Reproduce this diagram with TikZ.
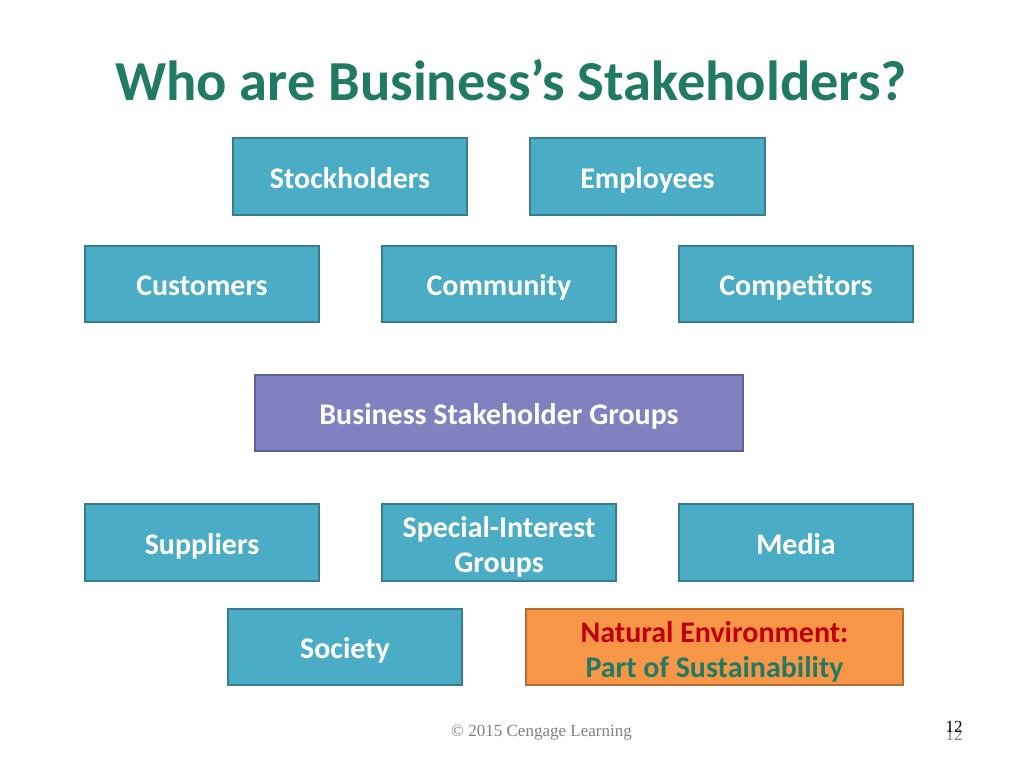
\documentclass[tikz,border=0pt]{standalone}
\usepackage{fontspec}
\setmainfont{Carlito}
\newfontfamily\footfont{Liberation Serif}
\definecolor{boxaqua}{HTML}{4BACC6}
\definecolor{boxaquaedge}{HTML}{357D91}
\definecolor{boxviolet}{HTML}{8181BF}
\definecolor{boxvioletedge}{HTML}{5F5F99}
\definecolor{boxorange}{HTML}{F79646}
\definecolor{boxorangeedge}{HTML}{B66D31}
\definecolor{titlegreen}{HTML}{217A63}
\definecolor{envred}{HTML}{C00000}

\begin{document}
\begin{tikzpicture}[x=0.025cm, y=-0.025cm,
  every node/.style = {align=center, font=\fontsize{21.3}{24.8}\selectfont\bfseries},
  stakebox/.style = {shape=rectangle, draw=boxaquaedge, fill=boxaqua,
    line width=1.4pt, text=white, minimum width=5.85cm, minimum height=1.92cm,
    text height=21pt, text depth=4.6pt, inner sep=0pt},
  twolines/.style = {text height=47.5pt, text depth=5pt},
  groupbox/.style = {stakebox, draw=boxvioletedge, fill=boxviolet,
    minimum width=12.2cm},
  earthbox/.style = {stakebox, draw=boxorangeedge, fill=boxorange,
    minimum width=9.42cm, text height=48pt, text depth=5pt},
  footnote/.style = {font=\fontsize{12.1}{14}\selectfont\footfont}]
  \useasboundingbox (0,0) rectangle (1024,768);
  \node[text=titlegreen, font=\fontsize{40.2}{46}\selectfont\bfseries] (title) at (511,80)
    {Who are Business’s Stakeholders?};
  \node[stakebox] (stock) at (350,176.5) {Stockholders};
  \node[stakebox] (empl) at (647.5,176.5) {Employees};
  \node[stakebox] (cust) at (202,284) {Customers};
  \node[stakebox] (comm) at (499,284) {Community};
  \node[stakebox] (comp) at (796,284) {Competitors};
  \node[groupbox] (groups) at (499,413) {Business Stakeholder Groups};
  \node[stakebox] (supp) at (202,542.5) {Suppliers};
  \node[stakebox, twolines] (special) at (499,542.5) {Special-Interest\\Groups};
  \node[stakebox] (media) at (796,542.5) {Media};
  \node[stakebox] (society) at (345,647) {Society};
  \node[earthbox] (nature) at (714.5,647)
    {\textcolor{envred}{Natural Environment:}\\\textcolor{titlegreen}{Part of Sustainability}};
  \node[footnote, text=gray] (credit) at (541.5,733)
    {© 2015 Cengage Learning};
  \node[footnote, text=gray] (pagegray) at (954,735) {12};
  \node[footnote] (page) at (954,727) {12};
\end{tikzpicture}
\end{document}
